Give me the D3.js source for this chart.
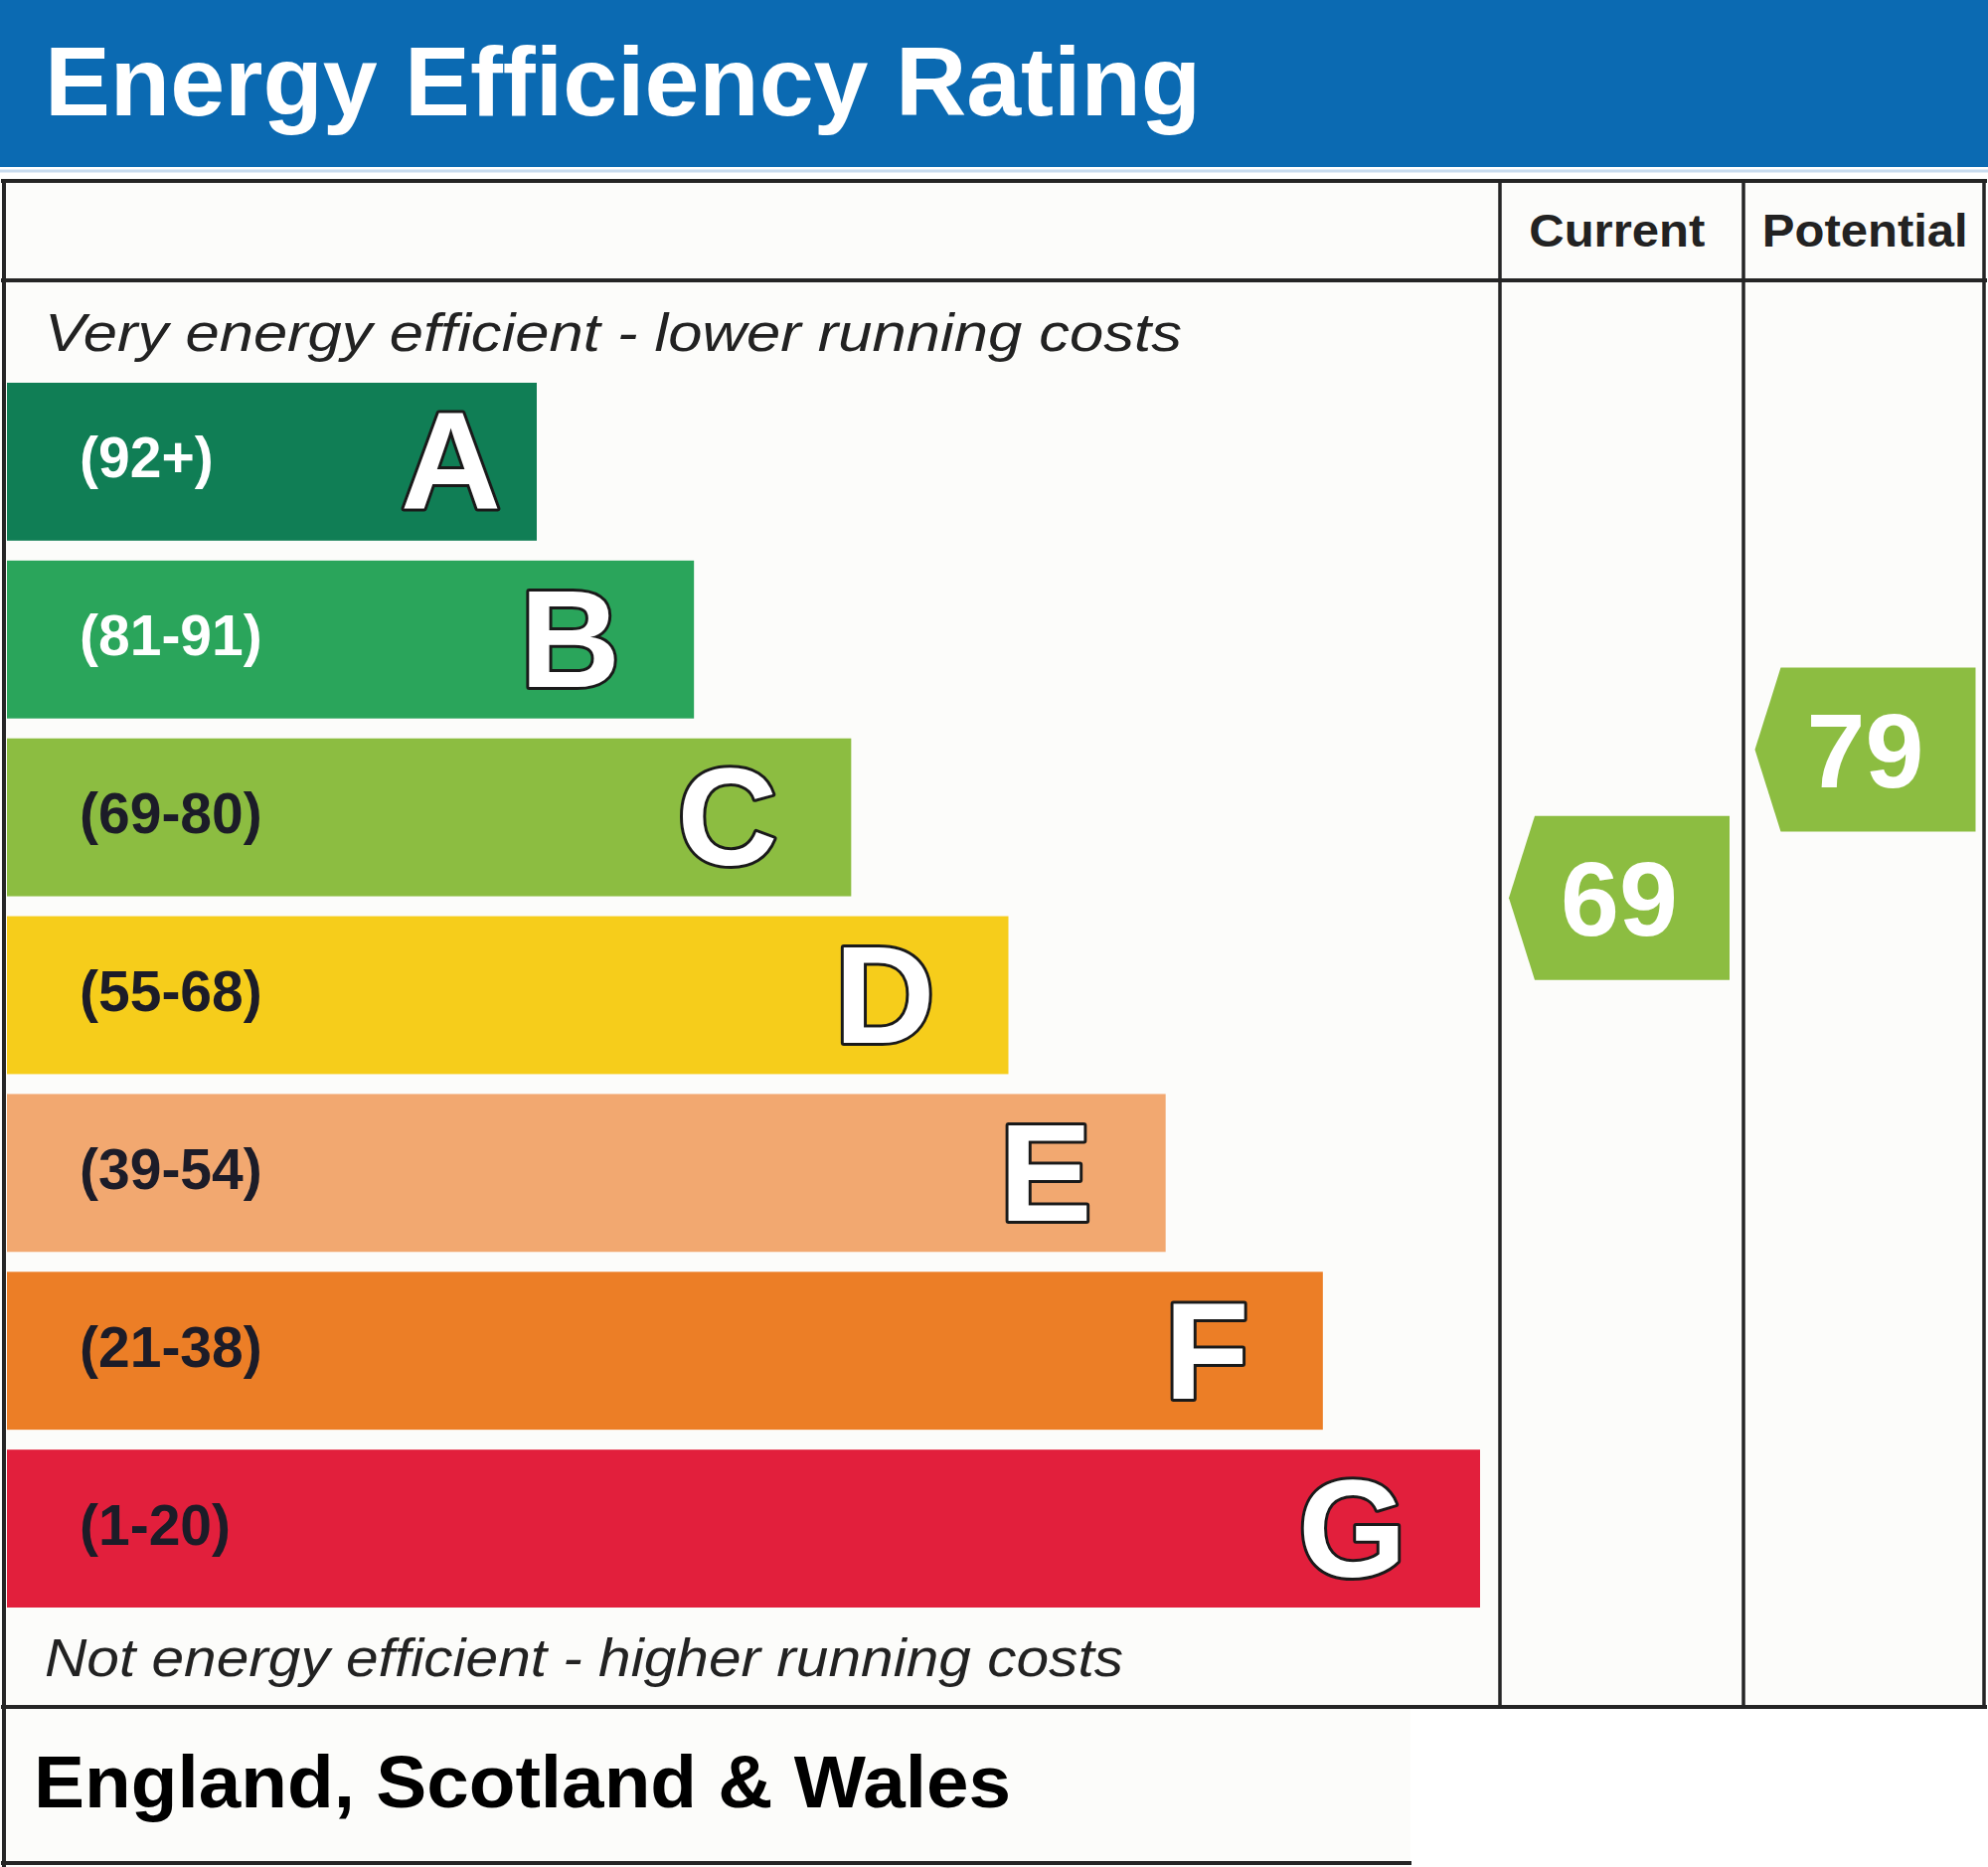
<!DOCTYPE html>
<html>
<head>
<meta charset="utf-8">
<script src="https://cdn.jsdelivr.net/npm/d3@7"></script>
<style>
  html, body { margin: 0; padding: 0; background: #fff; }
  svg { display: block; }
  text { font-family: "Liberation Sans", Arial, sans-serif; }
</style>
</head>
<body>
<script>
// bands, top (most efficient) to bottom
const bands = ['A', 'B', 'C', 'D', 'E', 'F', 'G'];
const rangeLabels = ['(92+)', '(81-91)', '(69-80)', '(55-68)', '(39-54)', '(21-38)', '(1-20)'];
const bandLow = [92, 81, 69, 55, 39, 21, 1];
const bandHigh = [100, 91, 80, 68, 54, 38, 20];
const bandColors = ['#107e55', '#2aa55b', '#8cbd41', '#f6cd1b', '#f2a870', '#ec7e26', '#e21f3c'];
const labelColors = ['#ffffff', '#ffffff', '#1c1c28', '#1c1c28', '#1c1c28', '#1c1c28', '#1c1c28'];

const columns = ['Current', 'Potential'];
const ratings = [69, 79];

const title = 'Energy Efficiency Rating';
const topNote = 'Very energy efficient - lower running costs';
const bottomNote = 'Not energy efficient - higher running costs';
const region = 'England, Scotland & Wales';

const W = 2000, H = 1878;
const INK = '#222';
const svg = d3.select('body').append('svg').attr('width', W).attr('height', H);

const y = d3.scaleBand().domain(bands).range([385, 1617]).paddingInner(0.112).paddingOuter(0);
const barEnd = d3.scaleLinear().domain([0, bands.length - 1]).range([540, 1489]);
const col = d3.scaleBand().domain(columns).range([1509, 1996]);

// score -> vertical position inside its band
function scoreY(v) {
  const i = bands.findIndex((b, k) => v >= bandLow[k] && v <= bandHigh[k]);
  const span = bandHigh[i] - bandLow[i] + 1;
  return y(bands[i]) + (bandHigh[i] - v + 0.5) / span * y.step() - 11;
}

// backgrounds
svg.append('rect').attr('x', 0).attr('y', 0).attr('width', W).attr('height', 168).attr('fill', '#0b6ab2');
svg.append('line').attr('x1', 0).attr('x2', W).attr('y1', 172).attr('y2', 172)
  .attr('stroke', '#c9dcef').attr('stroke-width', 3);
svg.append('rect').attr('x', 0).attr('y', 182).attr('width', 1998).attr('height', 1535).attr('fill', '#fcfcfa');
svg.append('rect').attr('x', 0).attr('y', 1717).attr('width', 1419).attr('height', 161).attr('fill', '#fcfcfa');

svg.append('text').attr('x', 45).attr('y', 116)
  .attr('font-size', 98).attr('font-weight', 'bold').attr('fill', '#fff')
  .attr('textLength', 1163).attr('lengthAdjust', 'spacingAndGlyphs')
  .text(title);

// bars
const rows = svg.append('g').selectAll('g').data(bands).join('g')
  .attr('transform', d => `translate(0,${y(d)})`);

rows.append('rect')
  .attr('x', 7).attr('y', 0)
  .attr('width', (d, i) => barEnd(i) - 7)
  .attr('height', y.bandwidth())
  .attr('fill', (d, i) => bandColors[i]);

rows.append('text')
  .attr('x', 80).attr('y', y.bandwidth() / 2 + 16)
  .attr('font-size', 57).attr('font-weight', 'bold')
  .attr('fill', (d, i) => labelColors[i])
  .text((d, i) => rangeLabels[i]);

rows.append('text')
  .attr('x', (d, i) => barEnd(i) - (d === 'A' ? 36 : 74))
  .attr('y', y.bandwidth() / 2 + 48)
  .attr('text-anchor', 'end')
  .attr('font-size', 140).attr('font-weight', 'bold')
  .attr('fill', '#fff').attr('stroke', '#1a1a1a').attr('stroke-width', 6)
  .attr('paint-order', 'stroke').attr('stroke-linejoin', 'round')
  .text(d => d);

// notes
svg.append('text').attr('x', 45).attr('y', 353)
  .attr('font-size', 54).attr('font-style', 'italic').attr('fill', INK)
  .attr('textLength', 1144).attr('lengthAdjust', 'spacingAndGlyphs')
  .text(topNote);
svg.append('text').attr('x', 45).attr('y', 1686)
  .attr('font-size', 54).attr('font-style', 'italic').attr('fill', INK)
  .attr('textLength', 1085).attr('lengthAdjust', 'spacingAndGlyphs')
  .text(bottomNote);
svg.append('text').attr('x', 34).attr('y', 1818)
  .attr('font-size', 75).attr('font-weight', 'bold').attr('fill', '#000')
  .attr('textLength', 983).attr('lengthAdjust', 'spacingAndGlyphs')
  .text(region);

// column headers
svg.append('g').selectAll('text').data(columns).join('text')
  .attr('x', d => col(d) + col.bandwidth() / 2 + (d === 'Current' ? -4 : 2))
  .attr('y', 248)
  .attr('text-anchor', 'middle')
  .attr('font-size', 46).attr('font-weight', 'bold').attr('fill', INK)
  .attr('textLength', d => d === 'Current' ? 177 : 207).attr('lengthAdjust', 'spacingAndGlyphs')
  .text(d => d);

// rating arrows
const AW = 222, AH = 165, NOTCH = 26;
const arrowLine = d3.line();
const arrows = svg.append('g').selectAll('g').data(columns).join('g')
  .attr('transform', (d, i) => `translate(${col(d) + 9 + (i ? 4 : 0)},${scoreY(ratings[i]) - AH / 2})`);

arrows.append('path')
  .attr('d', arrowLine([[0, AH / 2], [NOTCH, 0], [AW, 0], [AW, AH], [NOTCH, AH]]) + 'Z')
  .attr('fill', (d, i) => {
    const k = bands.findIndex((b, j) => ratings[i] >= bandLow[j] && ratings[i] <= bandHigh[j]);
    return bandColors[k];
  });

arrows.append('text')
  .attr('x', AW / 2).attr('y', AH / 2 + 38)
  .attr('text-anchor', 'middle')
  .attr('font-size', 106).attr('font-weight', 'bold').attr('fill', '#fff')
  .text((d, i) => ratings[i]);

// grid lines
const grid = svg.append('g').attr('stroke', '#252525').attr('stroke-linecap', 'square');
[[3, 182, 1997, 182], [3, 282, 1997, 282], [3, 1717, 1997, 1717], [3, 1874, 1418, 1874]]
  .forEach(([x1, y1, x2, y2]) => grid.append('line')
    .attr('x1', x1).attr('y1', y1).attr('x2', x2).attr('y2', y2).attr('stroke-width', 4));
grid.append('line').attr('x1', 4).attr('x2', 4).attr('y1', 182).attr('y2', 1876).attr('stroke-width', 4);
[col('Current'), col('Potential') + 1.5, 1996].forEach(x => grid.append('line')
  .attr('x1', x).attr('x2', x).attr('y1', 182).attr('y2', 1717).attr('stroke-width', 3.5));
</script>
</body>
</html>
